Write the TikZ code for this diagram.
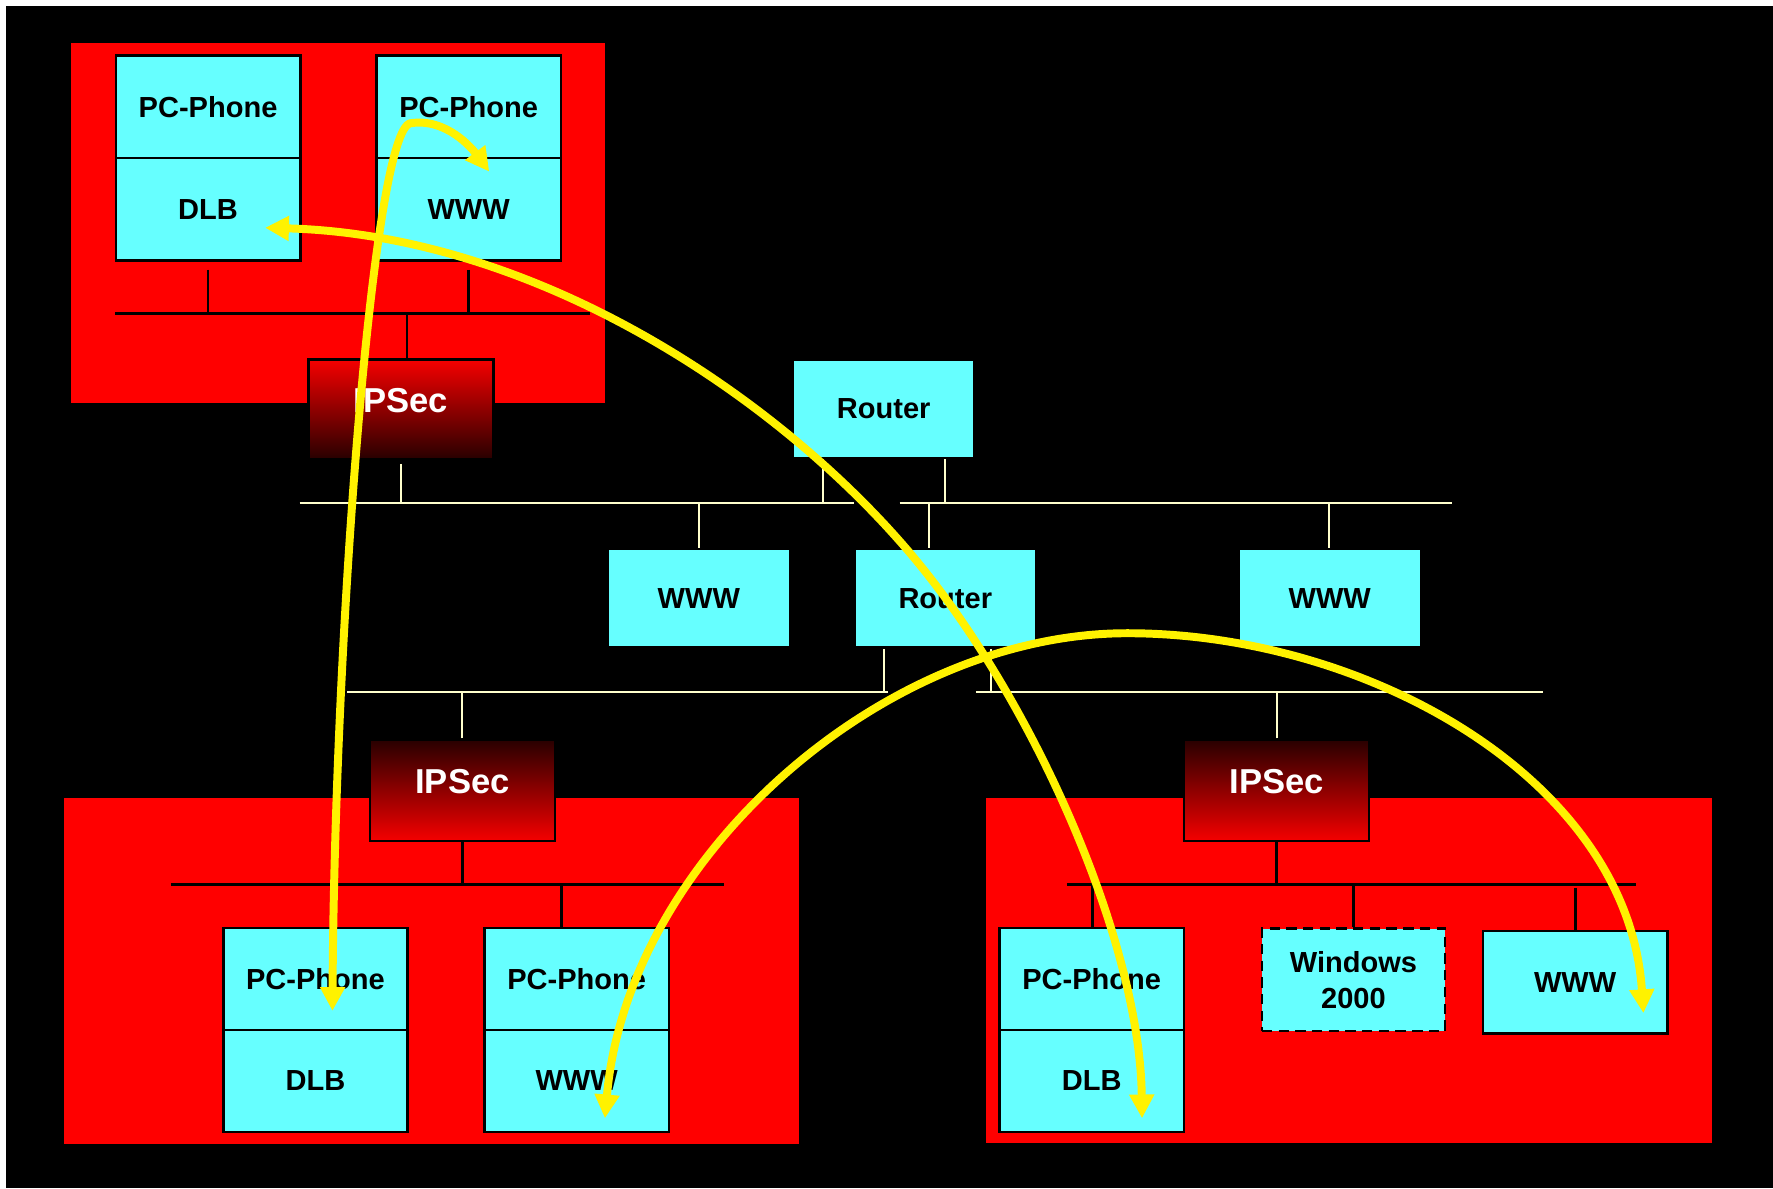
\documentclass[tikz,border=0pt]{standalone}
\usepackage{fontspec}
\setmainfont{Liberation Sans}
\usetikzlibrary{arrows.meta}
\definecolor{cyanc}{RGB}{102,255,255}
\definecolor{creamc}{RGB}{255,255,204}
\definecolor{darkr}{RGB}{40,0,0}
\definecolor{ipred}{RGB}{245,0,0}
\newcommand{\boxlab}{\fontsize{7.3pt}{9.1pt}\selectfont\bfseries}
\newcommand{\iplab}{\fontsize{8.7pt}{10pt}\selectfont\bfseries}
\begin{document}
\begin{tikzpicture}[x=0.01cm,y=-0.01cm,
  cbox/.style={draw=black,line width=0.65pt,fill=cyanc,minimum width=1.63cm,minimum height=0.905cm,inner sep=0pt,font=\boxlab,text=black},
  mbox/.style={cbox,minimum width=1.61cm,minimum height=0.87cm},
  ipbase/.style={draw=black,line width=0.65pt,minimum width=1.635cm,inner sep=0pt,font=\iplab,text=white,text height=6.3pt,text depth=4.6pt},
  ipup/.style={ipbase,top color=ipred,bottom color=darkr,minimum height=0.88cm},
  ipdown/.style={ipbase,top color=darkr,bottom color=ipred,minimum height=0.895cm},
  bus/.style={black,line width=0.7pt},
  wire/.style={creamc,line width=0.5pt},
  yarrow/.style={yellow,line width=2pt,{Triangle[length=2.1mm,width=2.1mm]}-{Triangle[length=2.1mm,width=2.1mm]}}
]
\useasboundingbox (0,0) rectangle (1568,1051);
\fill[white] (0,0) rectangle (1568,1051);
\fill[black] (5.5,5.5) rectangle (1568,1051);

% red zones
\fill[red] (63,38) rectangle (535,356);
\fill[red] (56.4,705.5) rectangle (706.8,1011.3);
\fill[red] (872,705.5) rectangle (1514,1011.2);

% nodes
\node[cbox] (tlpc) at (184,94.5) {PC-Phone};
\node[cbox] (tldlb) at (184,185) {DLB};
\node[cbox] (trpc) at (414.5,94.5) {PC-Phone};
\node[cbox] (trwww) at (414.5,185) {WWW};
\node[ipup] (ipsecT) at (354.5,362) {IPSec};

\node[mbox] (routerT) at (781.5,361.5) {Router};
\node[mbox] (wwwM) at (618,529) {WWW};
\node[mbox] (routerM) at (836,529) {Router};
\node[mbox] (wwwR) at (1176,529) {WWW};

\node[ipdown] (ipsecL) at (409,699) {IPSec};
\node[ipdown] (ipsecR) at (1129,699) {IPSec};

\node[cbox] (blpc) at (279,866) {PC-Phone};
\node[cbox] (bldlb) at (279,956) {DLB};
\node[cbox] (brpc) at (510,866) {PC-Phone};
\node[cbox] (brwww) at (510,956) {WWW};

\node[cbox] (rpc) at (965.5,866) {PC-Phone};
\node[cbox] (rdlb) at (965.5,956) {DLB};
\node[cbox,dashed,dash pattern=on 2.6pt off 1.6pt,align=center,minimum width=1.62cm] (win) at (1197,866.5) {Windows\\2000};
\node[cbox] (rwww) at (1393,868.5) {WWW};

% black buses inside red zones
\coordinate (tbus) at (360,277);
\draw[bus] (102,277) -- (522,277);
\draw[bus] ([yshift=-0.07cm]tldlb.south) -- (tldlb.south |- tbus);
\draw[bus] ([yshift=-0.07cm]trwww.south) -- (trwww.south |- tbus);
\draw[bus] (tbus) -- (tbus |- ipsecT.north);

\coordinate (lbus) at (496.4,782);
\draw[bus] (151,782) -- (640,782);
\draw[bus] (ipsecL.south) -- (ipsecL.south |- lbus);
\draw[bus] (lbus) -- (lbus |- brpc.north);

\coordinate (rb1) at (966,782);
\coordinate (rb2) at (1197,782);
\coordinate (rb3) at (1393,785);
\draw[bus] (944,782) -- (1447,782);
\draw[bus] (ipsecR.south) -- (ipsecR.south |- rb2);
\draw[bus] (rb1) -- (rb1 |- rpc.north);
\draw[bus] (rb2) -- (win.north);
\draw[bus] (rb3) -- (rwww.north);

% cream wires on black
\coordinate (w1) at (727.8,445);
\coordinate (w2) at (836,445);
\coordinate (w3) at (822,445);
\coordinate (w4) at (1175.5,445);
\coordinate (w5) at (781.5,612);
\coordinate (w6) at (876,612);
\draw[wire] (265,445) -- (755,445);
\draw[wire] (795.6,445) -- (1284,445);
\draw[wire] (307,612) -- (785,612);
\draw[wire] (863,612) -- (1365,612);
\draw[wire] ([yshift=-0.03cm]ipsecT.south) -- (ipsecT.south |- w1);
\draw[wire] (wwwM.north) -- (wwwM.north |- w1);
\draw[wire] (w1) -- (w1 |- routerT.south);
\draw[wire] (w2) -- (w2 |- routerT.south);
\draw[wire] (w3) -- (w3 |- routerM.north);
\draw[wire] (w4) -- (w4 |- wwwR.north);
\draw[wire] (w5) -- (w5 |- routerM.south);
\draw[wire] (w6) -- (w6 |- routerM.south);
\draw[wire] (ipsecL.north) -- (ipsecL.north |- w5);
\draw[wire] (ipsecR.north) -- (ipsecR.north |- w6);

% yellow arrows
\coordinate (a1s) at (294,894);
\coordinate (a1m) at (363,109);
\coordinate (a1e) at (432.7,151.8);
\coordinate (a2s) at (234.5,201.4);
\coordinate (a2m) at (800,483.5);
\coordinate (a2e) at (1010,989);
\coordinate (a3s) at (535,989);
\coordinate (a3m) at (997,560);
\coordinate (a3e) at (1453.4,896);
\draw[yarrow] (a1s) .. controls (296,560) and (330,115) .. (a1m)
                    .. controls (395,104) and (418,132) .. (a1e);
\draw[yarrow] (a2s) .. controls (470,208) and (680,345) .. (a2m)
                    .. controls (910,610) and (1008,830) .. (a2e);
\draw[yarrow] (a3s) .. controls (555,760) and (780,560) .. (a3m)
                    .. controls (1210,560) and (1440,690) .. (a3e);
\end{tikzpicture}
\end{document}
